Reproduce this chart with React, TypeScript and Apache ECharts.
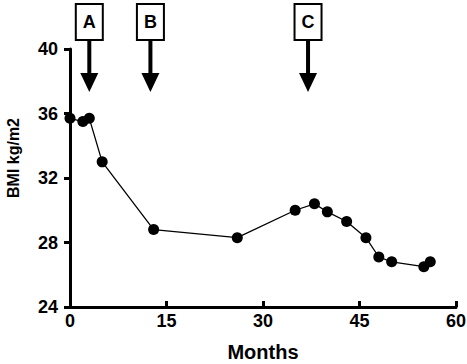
import React, { useEffect, useRef } from "react";
import * as echarts from "echarts";

const months = [0, 2, 3, 5, 13, 26, 35, 38, 40, 43, 46, 48, 50, 55, 56];
const bmi = [35.7, 35.5, 35.7, 33.0, 28.8, 28.3, 30.0, 30.4, 29.9, 29.3, 28.3, 27.1, 26.8, 26.5, 26.8];
const xTicks = [0, 15, 30, 45, 60];
const yTicks = [24, 28, 32, 36, 40];
const eventLabels = ["A", "B", "C"];
const eventMonths = [3, 12.5, 37];

const FONT = "'Liberation Sans', Arial, sans-serif";

export default function App() {
  const ref = useRef<HTMLDivElement>(null);
  useEffect(() => {
    if (!ref.current) return;
    const chart = echarts.init(ref.current, undefined, { renderer: "svg" });
    const axisText = { color: "#000", fontFamily: FONT, fontWeight: "bold" as const, fontSize: 18 };
    chart.setOption({
      animation: false,
      grid: { left: 70, right: 11, top: 49, bottom: 57, containLabel: false, outerBoundsMode: "none" },
      xAxis: {
        type: "value",
        min: xTicks[0],
        max: xTicks[xTicks.length - 1],
        interval: 15,
        name: "Months",
        nameLocation: "middle",
        nameGap: 35,
        nameTextStyle: { ...axisText, fontSize: 20 },
        axisLine: { show: true, lineStyle: { color: "#000", width: 3 } },
        axisTick: { show: true, inside: true, length: 6, lineStyle: { color: "#000", width: 3 } },
        axisLabel: { ...axisText, margin: 5 },
        splitLine: { show: false },
      },
      yAxis: {
        type: "value",
        min: yTicks[0],
        max: yTicks[yTicks.length - 1],
        interval: 4,
        name: "BMI kg/m2",
        nameLocation: "middle",
        nameGap: 49,
        nameTextStyle: { ...axisText, fontSize: 16, padding: [0, 0, 0, 40] },
        axisLine: { show: true, lineStyle: { color: "#000", width: 3 } },
        axisTick: { show: true, length: 6, lineStyle: { color: "#000", width: 3 } },
        axisLabel: { ...axisText, margin: 12 },
        splitLine: { show: false },
      },
      series: [
        {
          type: "line",
          data: months.map((m, i) => [m, bmi[i]]),
          symbol: "circle",
          symbolSize: 11,
          itemStyle: { color: "#000" },
          lineStyle: { color: "#000", width: 1.3 },
          z: 3,
        },
      ],
    });

    const graphics: any[] = [];
    eventMonths.forEach((m, i) => {
      const cx = chart.convertToPixel({ xAxisIndex: 0 }, m) as number;
      graphics.push(
        {
          type: "rect",
          shape: { x: cx - 13.5, y: 4, width: 27, height: 36 },
          style: { fill: "#fff", stroke: "#000", lineWidth: 2 },
        },
        {
          type: "text",
          x: cx,
          y: 22,
          style: {
            text: eventLabels[i],
            fill: "#000",
            font: `bold 18px ${FONT}`,
            align: "center",
            verticalAlign: "middle",
          },
        },
        {
          type: "line",
          shape: { x1: cx, y1: 41, x2: cx, y2: 75 },
          style: { stroke: "#000", lineWidth: 4 },
        },
        {
          type: "polygon",
          shape: { points: [[cx - 9, 73], [cx + 9, 73], [cx, 92]] },
          style: { fill: "#000" },
        }
      );
    });
    chart.setOption({ graphic: graphics });
    return () => chart.dispose();
  }, []);
  return (
    <div
      ref={ref}
      style={{ position: "absolute", left: 0, top: 0, width: 467, height: 364 }}
    />
  );
}
